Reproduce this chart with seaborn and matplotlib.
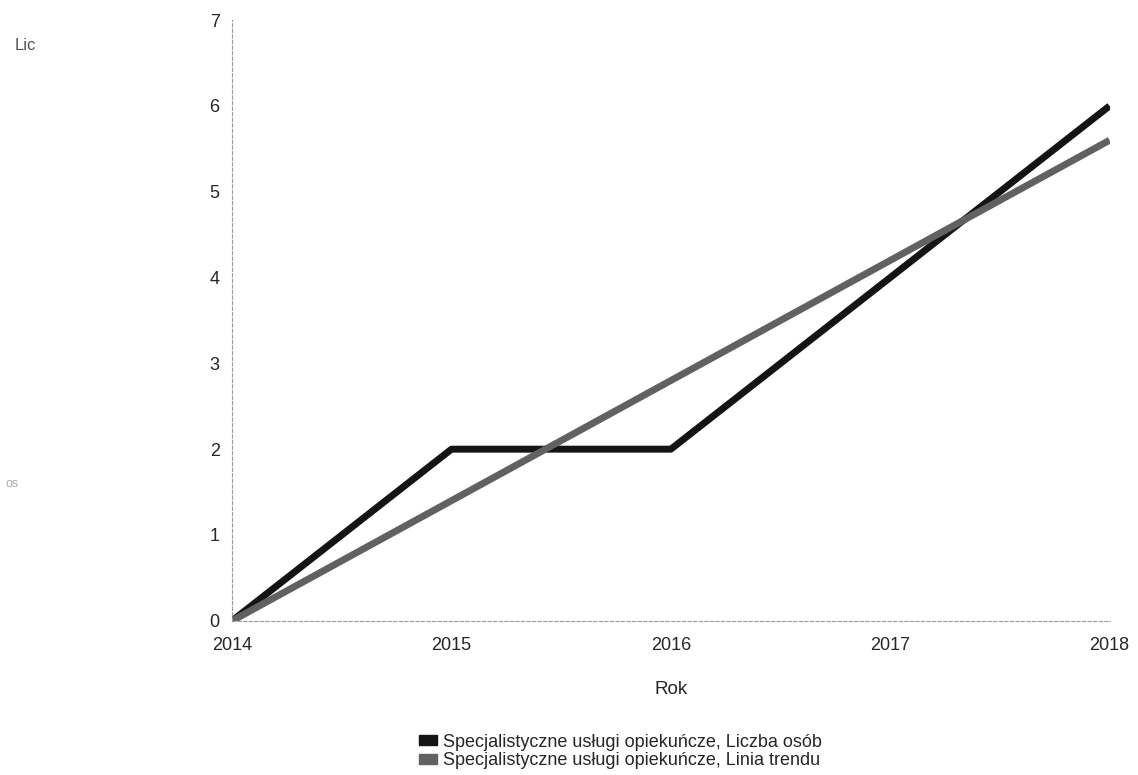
import matplotlib
matplotlib.use("Agg")
import matplotlib.pyplot as plt
from matplotlib.patches import Patch
import pandas as pd
import seaborn as sns

sns.set_style("white")
plt.rcParams['font.family'] = ['Liberation Sans', 'DejaVu Sans']

# data
years = [2014, 2015, 2016, 2017, 2018]
liczba_osob = [0, 2, 2, 4, 6]
linia_trendu = [0, 1.4, 2.8, 4.2, 5.6]
series_names = ["Specjalistyczne usługi opiekuńcze, Liczba osób",
                "Specjalistyczne usługi opiekuńcze, Linia trendu"]
colors = ["#141414", "#616161"]

df = pd.DataFrame({
    "Rok": years * 2,
    "value": liczba_osob + linia_trendu,
    "series": [series_names[0]] * len(years) + [series_names[1]] * len(years),
})

fig = plt.figure(figsize=(11.38, 7.75), dpi=100)
ax = fig.add_axes([0.204, 0.199, 0.771, 0.775])

sns.lineplot(data=df, x="Rok", y="value", hue="series", palette=colors,
             linewidth=5, ax=ax, legend=False, solid_capstyle="butt")

ax.set_xlim(2014, 2018)
ax.set_ylim(0, 7)
ax.set_xticks(years)
ax.set_yticks(range(0, 8))
ax.tick_params(labelsize=13, length=0)
ax.tick_params(axis="x", pad=12)
ax.tick_params(axis="y", pad=9)
ax.set_xlabel("Rok", fontsize=13.5, labelpad=19)
ax.set_ylabel("")

for side in ["top", "right"]:
    ax.spines[side].set_visible(False)
for side in ["left", "bottom"]:
    ax.spines[side].set_color("#9a9a9a")
    ax.spines[side].set_linestyle((0, (3, 2)))
    ax.spines[side].set_linewidth(0.8)

# faint fragments of the y label at the left edge
fig.text(0.013, 0.935, "Lic", fontsize=12, color="#555555")
fig.text(0.005, 0.372, "os", fontsize=9, color="#aaaaaa")

handles = [Patch(facecolor=c, edgecolor=c) for c in colors]
fig.legend(handles, series_names, loc="upper center", bbox_to_anchor=(0.545, 0.065),
           frameon=False, fontsize=13, handlelength=1.0, handleheight=0.5,
           handletextpad=0.35, labelspacing=0.1, borderpad=0)

fig.savefig("out.png", dpi=100)
